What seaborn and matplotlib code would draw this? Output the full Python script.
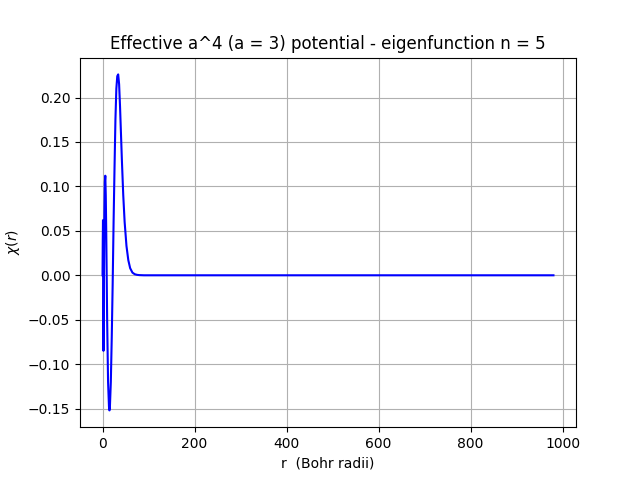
import pandas as pd
import matplotlib
matplotlib.use('Agg')
import matplotlib.pyplot as plt
import seaborn as sns

# values
r_vals = [0, 0.5, 1, 1.5, 2, 2.5, 3, 4, 5, 6, 7, 8, 10, 12, 14, 15, 16, 18, 20, 22,
          24, 26, 28, 30, 32, 34, 36, 38, 40, 42, 45, 48, 52, 56, 60, 65, 70, 75,
          80, 90, 100, 200, 400, 600, 800, 980]
chi_vals = [0, 0.04, 0.062, 0.0, -0.085, -0.05, 0.0, 0.07, 0.105, 0.112, 0.09, 0.05,
            -0.05, -0.12, -0.148, -0.152, -0.148, -0.12, -0.07, -0.01, 0.06, 0.12,
            0.175, 0.21, 0.224, 0.226, 0.215, 0.19, 0.16, 0.13, 0.09, 0.06, 0.033,
            0.017, 0.008, 0.003, 0.0012, 0.0005, 0.0002, 0, 0, 0, 0, 0, 0, 0]

df = pd.DataFrame({'r': r_vals, 'chi': chi_vals})

fig, ax = plt.subplots(figsize=(6.4, 4.8), dpi=100)
sns.lineplot(data=df, x='r', y='chi', color='blue', linewidth=1.5, ax=ax)
ax.grid(True)
ax.set_title('Effective a^4 (a = 3) potential - eigenfunction n = 5')
ax.set_xlabel('r  (Bohr radii)')
ax.set_ylabel(r'$\chi(r)$')
fig.savefig('out.png', dpi=100)
